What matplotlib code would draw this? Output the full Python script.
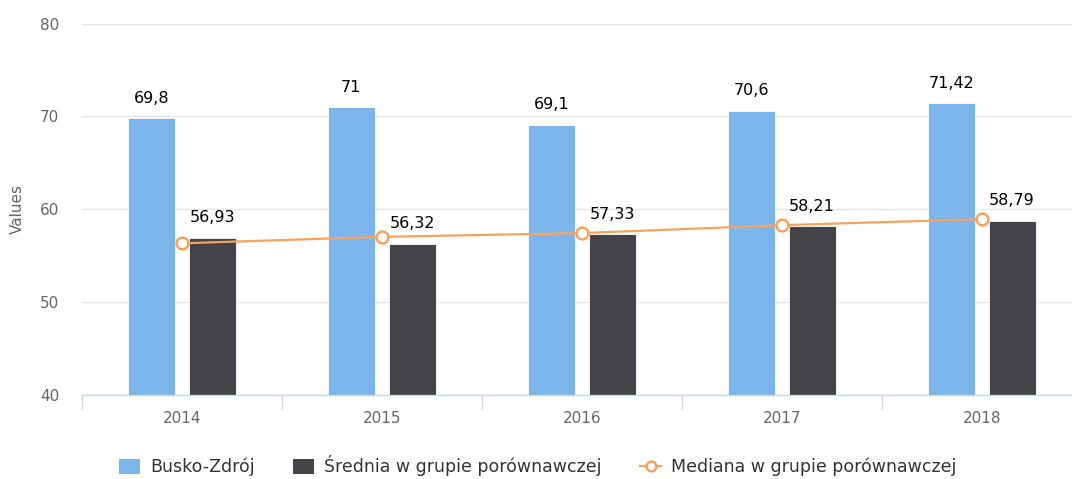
import matplotlib
matplotlib.use("Agg")
import matplotlib.pyplot as plt
import numpy as np
from matplotlib.patches import Patch
from matplotlib.lines import Line2D

years = ["2014", "2015", "2016", "2017", "2018"]
busko = [69.8, 71.0, 69.1, 70.6, 71.42]
srednia = [56.93, 56.32, 57.33, 58.21, 58.79]
mediana = [56.35, 57.05, 57.45, 58.3, 58.95]
busko_labels = ["69,8", "71", "69,1", "70,6", "71,42"]
srednia_labels = ["56,93", "56,32", "57,33", "58,21", "58,79"]

c_blue = "#7cb5ec"
c_dark = "#434348"
c_orange = "#f7a35c"
c_axis = "#ccd6eb"
c_grid = "#e6e6e6"
c_text = "#666666"

plt.rcParams['font.family'] = ['DejaVu Sans']

fig = plt.figure(figsize=(10.72, 4.79), dpi=100)
ax = fig.add_axes([81.7/1072, 1-395.3/479, 1000/1072, (395.3-23.5)/479])

x = np.arange(len(years))
w = 0.235
off = 0.152
ax.bar(x - off, busko, w, color=c_blue, edgecolor="white", linewidth=0.6, zorder=2)
ax.bar(x + off, srednia, w, color=c_dark, edgecolor="white", linewidth=0.6, zorder=2)
ax.plot(x, mediana, color=c_orange, lw=1.6, marker="o", ms=8.5, mfc="white",
        mec=c_orange, mew=1.8, zorder=4)

for xi, v, s in zip(x, busko, busko_labels):
    ax.annotate(s, (xi - off, v), xytext=(0, 9), textcoords="offset points",
                ha="center", va="bottom", fontsize=11.5, color="#000000", zorder=5)
for xi, v, s in zip(x, srednia, srednia_labels):
    ax.annotate(s, (xi + off, v), xytext=(0, 9), textcoords="offset points",
                ha="center", va="bottom", fontsize=11.5, color="#000000", zorder=5)

ax.set_ylim(40, 80)
ax.set_xlim(-0.5, 4.5)
ax.set_yticks([40, 50, 60, 70, 80])
ax.tick_params(axis="y", length=0, pad=16, labelsize=11, labelcolor=c_text)
ax.yaxis.grid(True, color=c_grid, lw=1, zorder=0)
ax.set_axisbelow(True)

ax.set_xticks(np.arange(-0.5, 5.0, 1.0))
ax.set_xticklabels([])
ax.tick_params(axis="x", which="major", length=10, color=c_axis, width=1)
ax.set_xticks(x, minor=True)
ax.set_xticklabels(years, minor=True)
ax.tick_params(axis="x", which="minor", length=0, pad=11, labelsize=11, labelcolor=c_text)

for s in ["top", "right", "left"]:
    ax.spines[s].set_visible(False)
ax.spines["bottom"].set_color(c_axis)
ax.spines["bottom"].set_linewidth(1)
ax.spines["bottom"].set_zorder(3)

ax.set_ylabel("Values", fontsize=11, color=c_text)
ax.yaxis.set_label_coords(-57/1000, 0.5)

handles = [
    Patch(facecolor=c_blue, edgecolor="none"),
    Patch(facecolor=c_dark, edgecolor="none"),
    Line2D([0], [0], color=c_orange, lw=1.6, marker="o", ms=7, mfc="white", mec=c_orange, mew=1.8),
]
labels = ["Busko-Zdrój", "Średnia w grupie porównawczej", "Mediana w grupie porównawczej"]
fig.legend(handles, labels, loc="center", bbox_to_anchor=(538/1072, 1-466/479), ncol=3,
           frameon=False, fontsize=12.5, labelcolor="#333333", handlelength=1.2,
           handleheight=1.0, columnspacing=2.2, handletextpad=0.6)

fig.savefig("out.png", dpi=100)
